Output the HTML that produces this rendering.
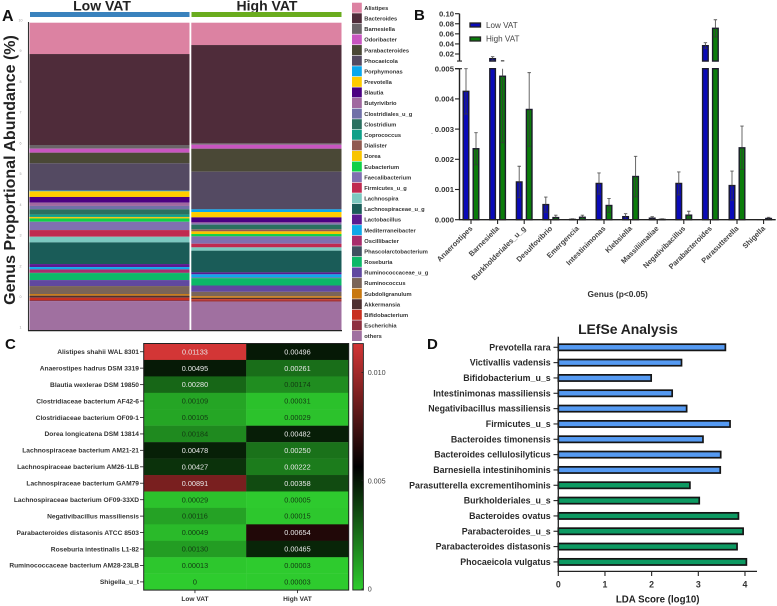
<!DOCTYPE html>
<html lang="en">
<head>
<meta charset="utf-8">
<title>VAT microbiome figure</title>
<style>
html,body{margin:0;padding:0;background:#fff;}
#fig{position:absolute;left:0;top:0;display:block;font-family:"Liberation Sans",sans-serif;filter:blur(0.3px);}
</style>
</head>
<body>
<svg id="fig" width="777" height="606" viewBox="0 0 777 606" xmlns="http://www.w3.org/2000/svg">
  <g id="panelA">
    <text x="2" y="21" font-size="16" font-weight="700" fill="#111">A</text>
    <text x="102" y="10.5" font-size="14" font-weight="700" text-anchor="middle" fill="#222">Low VAT</text>
    <text x="267" y="10.5" font-size="14" font-weight="700" text-anchor="middle" fill="#222">High VAT</text>
    <rect x="30" y="12" width="159.5" height="5" fill="#3a82bd"/>
    <rect x="191.5" y="12" width="150" height="5" fill="#6aac1e"/>
    <text transform="translate(15,170) rotate(-90)" font-size="16" font-weight="700" text-anchor="middle" fill="#222">Genus Proportional Abundance (%)</text>
  </g>
  <g id="panelB">
    <text x="414" y="20" font-size="15" font-weight="700" fill="#111">B</text>
    <text x="431" y="134" font-size="7" fill="#444">.</text>
    <text x="617.7" y="297" font-size="8.4" font-weight="700" text-anchor="middle" fill="#333">Genus (p&lt;0.05)</text>
    <rect x="470" y="23" width="10.5" height="4" fill="#0a0ab8" stroke="#222" stroke-width="1.3"/>
    <text x="486" y="28" font-size="8.1" fill="#444">Low VAT</text>
    <rect x="470" y="37" width="10.5" height="4" fill="#0b7c0b" stroke="#222" stroke-width="1.3"/>
    <text x="486" y="41.6" font-size="8.1" fill="#444">High VAT</text>
  </g>
  <g id="panelC">
    <text x="5" y="349" font-size="15" font-weight="700" fill="#111">C</text>
    <defs>
      <linearGradient id="heatGrad" x1="0" y1="1" x2="0" y2="0">
        <stop offset="0" stop-color="#2ecc2e"/>
        <stop offset="0.5" stop-color="#000000"/>
        <stop offset="1" stop-color="#d33636"/>
      </linearGradient>
    </defs>
  </g>
  <g id="panelD">
    <text x="427" y="349" font-size="15" font-weight="700" fill="#111">D</text>
    <text x="628" y="334" font-size="13.9" font-weight="700" text-anchor="middle" fill="#222">LEfSe Analysis</text>
    <text x="657.7" y="602.5" font-size="9.7" font-weight="700" text-anchor="middle" fill="#222">LDA Score (log10)</text>
  </g>
</svg>
<script>
/* ---------- Panel A data (percent of each stack) ---------- */
const genera = ["Alistipes","Bacteroides","Barnesiella","Odoribacter","Parabacteroides","Phocaeicola","Porphymonas","Prevotella","Blautia","Butyrivibrio","Clostridiales_u_g","Clostridium","Coprococcus","Dialister","Dorea","Eubacterium","Faecalibacterium","Firmicutes_u_g","Lachnospira","Lachnospiraceae_u_g","Lactobacillus","Mediterraneibacter","Oscillibacter","Phascolarctobacterium","Roseburia","Ruminococcaceae_u_g","Ruminococcus","Subdoligranulum","Akkermansia","Bifidobacterium","Escherichia","others"];
const generaColors = ["#dc82a2","#4f2c3a","#6a6468","#c855c0","#4a4836","#544a62","#0aa8ee","#ffcc00","#4b0082","#a068a0","#7070a8","#2a7060","#10a088","#905a50","#f8c400","#10d048","#8070b0","#c02a50","#7cc8c0","#1a5c58","#5a1a90","#10a8e8","#a82c6c","#405060","#0cb868","#6048a0","#7a6458","#c87810","#4e3030","#c83020","#8e3040","#a070a0"];
const lowVatAbundance = [10.2,29.6,1.19,1.3,3.47,8.89,0.22,1.84,1.84,1.08,1.08,1.74,0.76,0.05,0.43,1.08,2.71,2.17,1.84,7.05,0.98,0.76,1.08,0.11,2.28,1.95,2.6,0.54,0.65,0.76,0.33,9.44];
const highVatAbundance = [7.27,32.0,0.43,1.3,7.48,12.26,0.87,1.74,1.63,0.33,0.43,1.41,0.1,0.65,0.87,0.76,2.39,1.19,1.08,7.05,0.65,1.08,0.11,0.05,2.39,2.06,1.41,0.54,0.43,0.43,0.43,9.33];
const abundanceTicks = ["10","9","8","7","6","5","4","3","2","0","1"];

/* ---------- Panel B data ---------- */
const bCategories = ["Anaerostipes","Barnesiella","Burkholderiales_u_g","Desulfovibrio","Emergencia","Intestinimonas","Klebsiella","Massiliimaliae","Negativibacillus","Parabacteroides","Parasutterella","Shigella"];
const bLowValues = [0.00425,0.0107,0.00125,0.0005,0.00001,0.0012,0.0001,0.00005,0.0012,0.0365,0.00113,0];
const bLowErrors = [0.00075,0.004,0.00052,0.00025,0.00002,0.00035,0.0001,0.00005,0.00038,0.0059,0.00048,0];
const bHighValues = [0.00235,0.00475,0.00365,0.00007,0.00008,0.00047,0.00143,0.00001,0.00015,0.071,0.00238,0.00004];
const bHighErrors = [0.00053,0.0022,0.00122,0.00008,0.00007,0.00023,0.00067,0.00002,0.00013,0.017,0.00072,0.00004];
const bUpperTicks = [0.10,0.08,0.06,0.04,0.02];
const bLowerTicks = [0.005,0.004,0.003,0.002,0.001,0];

/* ---------- Panel C data ---------- */
const heatRows = ["Alistipes shahii WAL 8301","Anaerostipes hadrus DSM 3319","Blautia wexlerae DSM 19850","Clostridiaceae bacterium AF42-6","Clostridiaceae bacterium OF09-1","Dorea longicatena DSM 13814","Lachnospiraceae bacterium AM21-21","Lachnospiraceae bacterium AM26-1LB","Lachnospiraceae bacterium GAM79","Lachnospiraceae bacterium OF09-33XD","Negativibacillus massiliensis","Parabacteroides distasonis ATCC 8503","Roseburia intestinalis L1-82","Ruminococcaceae bacterium AM28-23LB","Shigella_u_t"];
const heatColumns = ["Low VAT","High VAT"];
const heatLow = [0.01133,0.00495,0.00280,0.00109,0.00105,0.00184,0.00478,0.00427,0.00891,0.00029,0.00116,0.00049,0.00130,0.00013,0];
const heatHigh = [0.00496,0.00261,0.00174,0.00031,0.00029,0.00482,0.00250,0.00222,0.00358,0.00005,0.00015,0.00654,0.00465,0.00003,0.00003];
const heatTicks = [0.010,0.005,0];

/* ---------- Panel D data ---------- */
const ldaNames = ["Prevotella rara","Victivallis vadensis","Bifidobacterium_u_s","Intestinimonas massiliensis","Negativibacillus massiliensis","Firmicutes_u_s","Bacteroides timonensis","Bacteroides cellulosilyticus","Barnesiella intestinihominis","Parasutterella excrementihominis","Burkholderiales_u_s","Bacteroides ovatus","Parabacteroides_u_s","Parabacteroides distasonis","Phocaeicola vulgatus"];
const ldaScores = [3.58,2.64,1.99,2.44,2.75,3.68,3.10,3.48,3.47,2.82,3.02,3.86,3.96,3.83,4.03];
const ldaGroups = ["low","low","low","low","low","low","low","low","low","high","high","high","high","high","high"];
const ldaTicks = [0,1,2,3,4];

const NS = "http://www.w3.org/2000/svg";
function mk(tag, attrs, parent, txt) {
  const n = document.createElementNS(NS, tag);
  for (const k in attrs) n.setAttribute(k, attrs[k]);
  if (txt !== undefined) n.textContent = txt;
  parent.appendChild(n);
  return n;
}
const panelA = document.getElementById("panelA");
const panelB = document.getElementById("panelB");
const panelC = document.getElementById("panelC");
const panelD = document.getElementById("panelD");
let el;

/* ========== Panel A ========== */
const yA = v => 330 - v / 100 * 307.3;
function drawStack(values, x, w, label) {
  let cum = 100;
  values.forEach((v, i) => {
    const top = yA(cum), bot = yA(cum - v);
    el = mk("rect", {x: x, y: top, width: w, height: Math.max(bot - top, 0), fill: generaColors[i]}, panelA);
    
    
    cum -= v;
  });
}
drawStack(lowVatAbundance, 29.5, 160, 'low-vat');
drawStack(highVatAbundance, 191.3, 150.2, 'high-vat');
el = mk("line", {x1: 28.5, y1: 22, x2: 28.5, y2: 331, stroke: "#333", "stroke-width": 1.1}, panelA);


el = mk("line", {x1: 28, y1: 330.6, x2: 342, y2: 330.6, stroke: "#222", "stroke-width": 1.2}, panelA);


abundanceTicks.forEach((t, i) => {
  el = mk("text", {x: 20.5, y: 21.5 + i * 30.72, "font-size": 3.6, fill: "#999", "text-anchor": "middle"}, panelA, t);
  
  
});
genera.forEach((g, i) => {
  const cy = 7.7 + i * 10.59;
  el = mk("rect", {x: 352, y: cy - 5, width: 9.8, height: 10, fill: generaColors[i]}, panelA);
  
  
  el = mk("text", {x: 364.3, y: cy + 2.2, "font-size": 5.75, "font-weight": 700, fill: "#333"}, panelA, g);
  
  
});

/* ========== Panel B ========== */
const yLow = v => 219.7 - v * 30200;
const yHigh = v => 54 - (v - 0.02) * 503.75;
const BREAK_LOW = 0.005, BREAK_HIGH = 0.006;
const xGroup = i => 471 + i * 26.6;
const BLUE = "#0a0ab8", GREEN = "#0b7c0b";

function drawBar(cat, v, e, cx, fill, series) {
  const w = 5.6;
  const lowTop = yLow(Math.min(v, BREAK_LOW));
  el = mk("rect", {x: cx - w / 2, y: lowTop, width: w, height: Math.max(yLow(0) - lowTop, 0), fill: fill, stroke: "#1c1c2c", "stroke-width": 1.4}, panelB);
  
  
  if (v > BREAK_LOW) {
    const upTop = yHigh(v);
    el = mk("rect", {x: cx - w / 2, y: upTop, width: w, height: Math.max(yHigh(BREAK_HIGH) - upTop, 0), fill: fill, stroke: "#1c1c2c", "stroke-width": 1.4}, panelB);
    
    
  }
  const top = v + e, bottom = Math.max(v - e, 0);
  const segs = [];
  if (bottom < BREAK_LOW) segs.push([yLow(bottom), yLow(Math.min(top, BREAK_LOW)), top <= BREAK_LOW]);
  if (top > BREAK_HIGH) segs.push([yHigh(Math.max(bottom, BREAK_HIGH)), yHigh(top), true]);
  segs.forEach(s => {
    el = mk("path", {d: "M" + cx + " " + s[0] + "V" + s[1] + (s[2] ? "M" + (cx - 1.7) + " " + s[1] + "H" + (cx + 1.7) : "") + "M" + (cx - 1.7) + " " + s[0] + "H" + (cx + 1.7), stroke: "#3a3a3a", "stroke-width": 0.9, fill: "none", opacity: 0.85}, panelB);
    
    
  });
}
bCategories.forEach((c, i) => {
  drawBar(c, bLowValues[i], bLowErrors[i], xGroup(i) - 5, BLUE, 'low-vat');
  drawBar(c, bHighValues[i], bHighErrors[i], xGroup(i) + 5, GREEN, 'high-vat');
  el = mk("line", {x1: xGroup(i), y1: 219.7, x2: xGroup(i), y2: 224, stroke: "#222", "stroke-width": 1.1}, panelB);
  
  
  el = mk("text", {transform: "translate(" + (xGroup(i) + 2) + ",229) rotate(-45)", "font-size": 7.4, "font-weight": 700, "text-anchor": "end", fill: "#444"}, panelB, c);
  
  
});
el = mk("line", {x1: 459.5, y1: yHigh(0.10), x2: 459.5, y2: yHigh(BREAK_HIGH), stroke: "#222", "stroke-width": 1.4}, panelB);


el = mk("line", {x1: 459.5, y1: yLow(BREAK_LOW), x2: 459.5, y2: yLow(0), stroke: "#222", "stroke-width": 1.4}, panelB);


el = mk("line", {x1: 459, y1: yLow(0), x2: 775.7, y2: yLow(0), stroke: "#222", "stroke-width": 1.3}, panelB);


el = mk("line", {x1: 457, y1: yHigh(BREAK_HIGH), x2: 462, y2: yHigh(BREAK_HIGH), stroke: "#222", "stroke-width": 1.1}, panelB);


el = mk("line", {x1: 455, y1: yLow(BREAK_LOW), x2: 462, y2: yLow(BREAK_LOW), stroke: "#222", "stroke-width": 1.1}, panelB);


bUpperTicks.forEach(t => {
  el = mk("line", {x1: 455, y1: yHigh(t), x2: 459.5, y2: yHigh(t), stroke: "#222", "stroke-width": 1.1}, panelB);
  
  
  el = mk("text", {x: 454, y: yHigh(t) + 2.7, "font-size": 7.7, "font-weight": 700, "text-anchor": "end", fill: "#333"}, panelB, t.toFixed(2));
  
  
});
bLowerTicks.forEach(t => {
  el = mk("line", {x1: 455, y1: yLow(t), x2: 459.5, y2: yLow(t), stroke: "#222", "stroke-width": 1.1}, panelB);
  
  
  el = mk("text", {x: 454, y: yLow(t) + 2.7, "font-size": 7.7, "font-weight": 700, "text-anchor": "end", fill: "#333"}, panelB, t.toFixed(3));
  
  
});

/* ========== Panel C ========== */
const HEAT_MAX = Math.max(...heatLow, ...heatHigh);
const HEAT_MID = HEAT_MAX / 2;
function heatColor(v) {
  const mix = (a, b, t) => Math.round(a + (b - a) * t);
  if (v <= HEAT_MID) {
    const t = v / HEAT_MID;
    return "rgb(" + mix(46, 0, t) + "," + mix(204, 0, t) + "," + mix(46, 0, t) + ")";
  }
  const t = (v - HEAT_MID) / HEAT_MID;
  return "rgb(" + mix(0, 211, t) + "," + mix(0, 54, t) + "," + mix(0, 54, t) + ")";
}
const H_TOP = 343.5, H_LEFT = 143.7, H_ROW = 16.44, H_COL = 102.5;
const xHeat = c => H_LEFT + c * H_COL;
const yHeat = r => H_TOP + r * H_ROW;
const yBar = v => 589 - v / 0.005 * 108.3;
function fmtHeat(v) { return v === 0 ? "0" : v.toFixed(5); }
function textOn(v) { return (v >= 0.0022) ? "#e8e8e8" : "#123a12"; }
[heatLow, heatHigh].forEach((series, c) => {
  series.forEach((v, r) => {
    el = mk("rect", {x: xHeat(c), y: yHeat(r), width: H_COL + 0.2, height: H_ROW + 0.2, fill: heatColor(v)}, panelC);
    
    
    el = mk("text", {x: xHeat(c) + H_COL / 2, y: yHeat(r) + H_ROW / 2 + 2.6, "font-size": 7.3, "text-anchor": "middle", fill: textOn(v)}, panelC, fmtHeat(v));
    
    
  });
});
heatRows.forEach((name, r) => {
  const cy = yHeat(r) + H_ROW / 2;
  el = mk("line", {x1: 140, y1: cy, x2: H_LEFT, y2: cy, stroke: "#333", "stroke-width": 0.9}, panelC);
  
  
  el = mk("text", {x: 139, y: cy + 2.3, "font-size": 6.65, "font-weight": 700, "text-anchor": "end", fill: "#333"}, panelC, name);
  
  
});
heatColumns.forEach((name, c) => {
  const cx = xHeat(c) + H_COL / 2;
  el = mk("line", {x1: cx, y1: yHeat(15), x2: cx, y2: yHeat(15) + 3, stroke: "#333", "stroke-width": 0.9}, panelC);
  
  
  el = mk("text", {x: cx, y: 601, "font-size": 6.6, "font-weight": 700, "text-anchor": "middle", fill: "#333"}, panelC, name);
  
  
});
el = mk("rect", {x: H_LEFT, y: H_TOP, width: H_COL * 2, height: H_ROW * 15, fill: "none", stroke: "#222", "stroke-width": 1}, panelC);


el = mk("rect", {x: 352.8, y: yBar(HEAT_MAX), width: 10.6, height: yBar(0) + 1 - yBar(HEAT_MAX), fill: "url(#heatGrad)", stroke: "#222", "stroke-width": 0.9}, panelC);


heatTicks.forEach(t => {
  el = mk("line", {x1: 361.5, y1: yBar(t), x2: 363.4, y2: yBar(t), stroke: "#222", "stroke-width": 0.8}, panelC);
  
  
  el = mk("text", {x: 367.7, y: yBar(t) + 2.6, "font-size": 7.2, fill: "#444"}, panelC, t === 0 ? "0" : t.toFixed(3));
  
  
});

/* ========== Panel D ========== */
const xLda = v => 558.3 + v * 46.67;
const yLda = i => 347.3 + i * 15.33;
ldaNames.forEach((n, i) => {
  const cy = yLda(i);
  el = mk("rect", {x: xLda(0), y: cy - 3.1, width: xLda(ldaScores[i]) - xLda(0), height: 6.2, fill: ldaGroups[i] === "low" ? "#559af2" : "#0d9a62", stroke: "#151515", "stroke-width": 1.7}, panelD);
  
  
  el = mk("line", {x1: 553.5, y1: cy, x2: 558.3, y2: cy, stroke: "#222", "stroke-width": 1.1}, panelD);
  
  
  el = mk("text", {x: 550.7, y: cy + 3, "font-size": 8.85, "font-weight": 700, "text-anchor": "end", fill: "#2a2a2a"}, panelD, n);
  
  
});
el = mk("line", {x1: 558.3, y1: 336.7, x2: 558.3, y2: 571.7, stroke: "#222", "stroke-width": 1.3}, panelD);


el = mk("line", {x1: 557.7, y1: 571.4, x2: 757, y2: 571.4, stroke: "#222", "stroke-width": 1.3}, panelD);


ldaTicks.forEach(t => {
  el = mk("line", {x1: xLda(t), y1: 571.4, x2: xLda(t), y2: 576, stroke: "#222", "stroke-width": 1.1}, panelD);
  
  
  el = mk("text", {x: xLda(t), y: 587.5, "font-size": 8.8, "font-weight": 700, "text-anchor": "middle", fill: "#333"}, panelD, String(t));
  
  
});
</script>
</body>
</html>
